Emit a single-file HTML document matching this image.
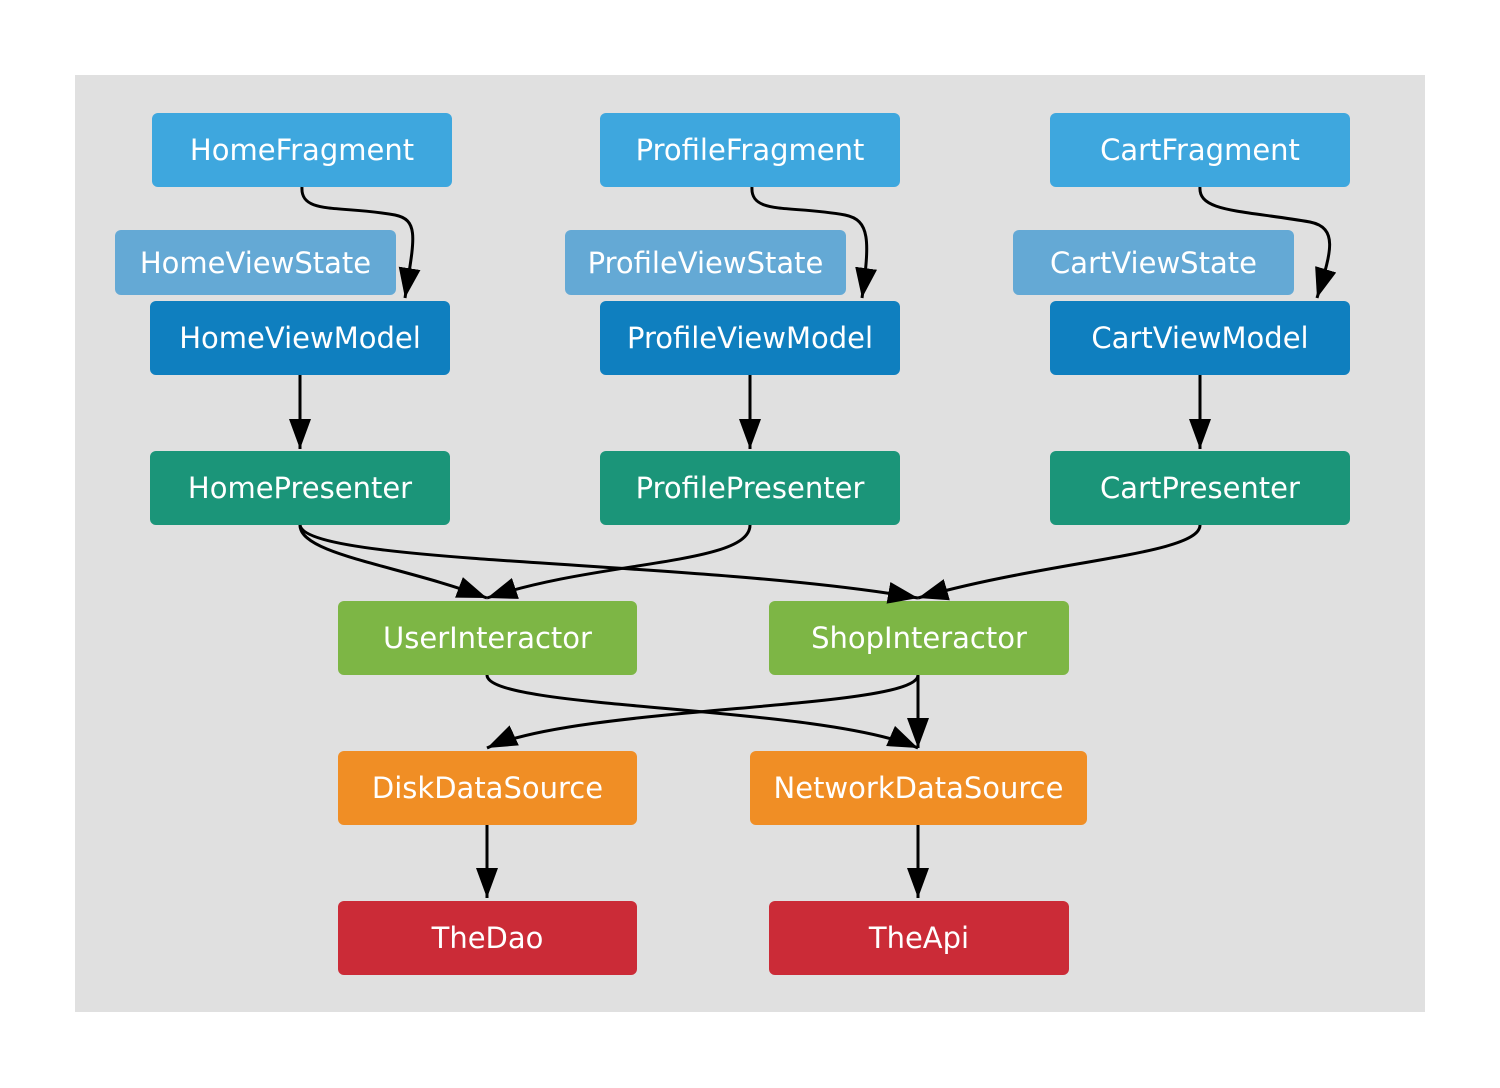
<!DOCTYPE html>
<html><head><meta charset="utf-8"><style>
html,body{margin:0;padding:0;background:#fff}
body{width:1500px;height:1088px;position:relative;overflow:hidden;font-family:"DejaVu Sans","Liberation Sans",sans-serif}
.panel{position:absolute;left:75px;top:75px;width:1350px;height:937px;background:#e0e0e0}
.n{position:absolute;color:#fff;font-size:29px;display:flex;align-items:center;justify-content:center;border-radius:6px;height:74px;width:300px;white-space:nowrap}
.f{background:#3ea7de}.vs{background:#64a9d5;height:65px;width:281px}.vm{background:#0f7fbf}.p{background:#1b9579}.i{background:#7db645}.d{background:#f08e25}.a{background:#cb2b37}
svg{position:absolute;left:0;top:0}
</style></head><body>
<div class="panel"></div>
<div class="n f" style="left:152px;top:113px">HomeFragment</div>
<div class="n f" style="left:600px;top:113px">ProfileFragment</div>
<div class="n f" style="left:1050px;top:113px">CartFragment</div>
<div class="n vs" style="left:115px;top:230px">HomeViewState</div>
<div class="n vs" style="left:565px;top:230px">ProfileViewState</div>
<div class="n vs" style="left:1013px;top:230px">CartViewState</div>
<div class="n vm" style="left:150px;top:301px">HomeViewModel</div>
<div class="n vm" style="left:600px;top:301px">ProfileViewModel</div>
<div class="n vm" style="left:1050px;top:301px">CartViewModel</div>
<div class="n p" style="left:150px;top:451px">HomePresenter</div>
<div class="n p" style="left:600px;top:451px">ProfilePresenter</div>
<div class="n p" style="left:1050px;top:451px">CartPresenter</div>
<div class="n i" style="left:338px;top:601px;width:299px">UserInteractor</div>
<div class="n i" style="left:769px;top:601px">ShopInteractor</div>
<div class="n d" style="left:338px;top:751px;width:299px">DiskDataSource</div>
<div class="n d" style="left:750px;top:751px;width:337px">NetworkDataSource</div>
<div class="n a" style="left:338px;top:901px;width:299px">TheDao</div>
<div class="n a" style="left:769px;top:901px">TheApi</div>
<svg width="1500" height="1088" viewBox="0 0 1500 1088">
<defs><marker id="m" markerUnits="userSpaceOnUse" markerWidth="32" markerHeight="24" refX="30" refY="11" orient="auto"><path d="M0,0 L30,11 L0,22 z" fill="#000"/></marker></defs>
<g fill="none" stroke="#000" stroke-width="3" marker-end="url(#m)">
<path d="M302,187 C300,215 340,205 395,215 C420,220 414,240 405,298"/>
<path d="M752,187 C750,215 790,205 845,215 C870,220 870,240 862,298"/>
<path d="M1200,187 C1198,212 1240,210 1310,222 C1340,228 1330,255 1317,298"/>
<path d="M300,375 L300,449"/>
<path d="M750,375 L750,449"/>
<path d="M1200,375 L1200,449"/>
<path d="M300,525 C300,555 400,565 487,598"/>
<path d="M300,525 C305,565 700,560 918,598"/>
<path d="M750,525 C750,565 600,560 487,598"/>
<path d="M1200,525 C1200,555 1050,560 918,598"/>
<path d="M487,675 C487,710 820,705 918,748"/>
<path d="M918,675 C918,710 580,705 487,748"/>
<path d="M918,675 L918,748"/>
<path d="M487,825 L487,898"/>
<path d="M918,825 L918,898"/>
</g></svg>
</body></html>
